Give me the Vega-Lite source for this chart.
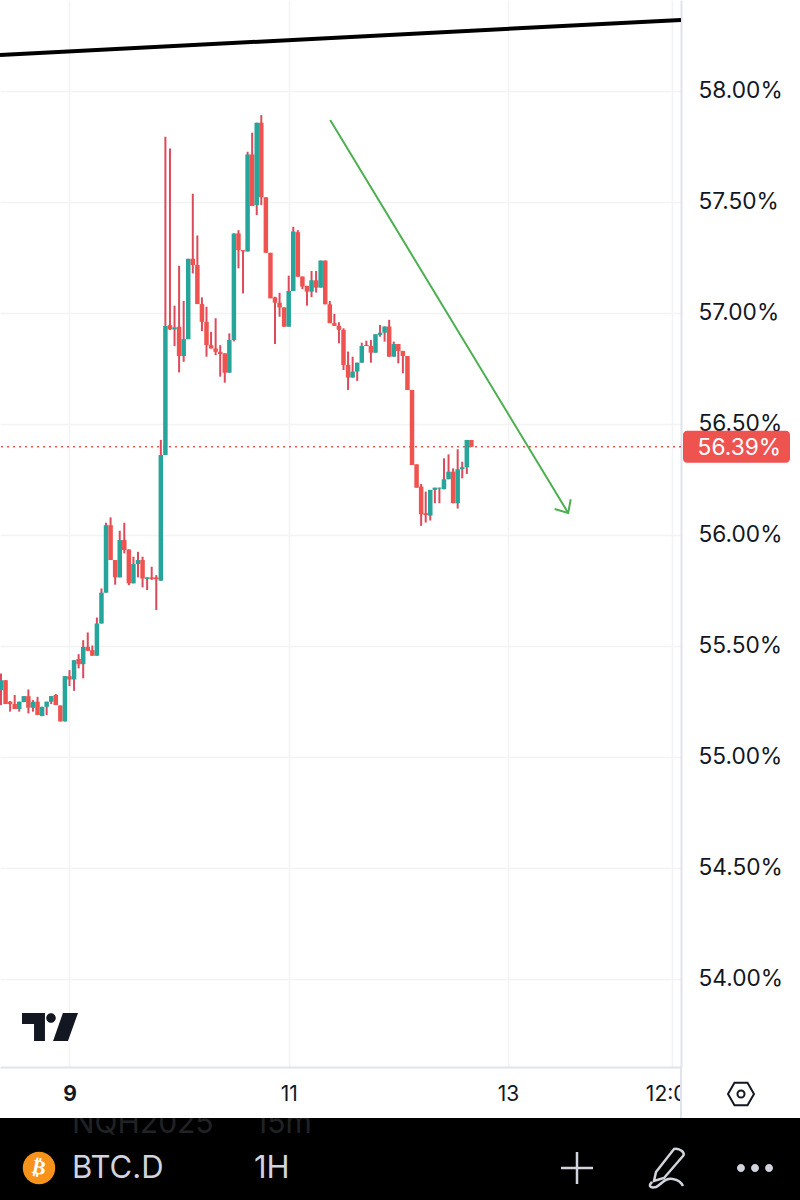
{
  "$schema": "https://vega.github.io/schema/vega-lite/v6.json",
  "width": 681,
  "height": 1067,
  "padding": {"left": -1, "top": 0, "right": 0, "bottom": 0},
  "background": "#ffffff",
  "config": {"view": {"stroke": null}, "font": "Inter"},
  "datasets": {
    "candles": [
      {"t":"2025-01-08T09:00Z","o":55.299,"h":55.374,"l":55.232,"c":55.344},
      {"t":"2025-01-08T10:00Z","o":55.344,"h":55.344,"l":55.236,"c":55.236},
      {"t":"2025-01-08T11:00Z","o":55.247,"h":55.250,"l":55.202,"c":55.236},
      {"t":"2025-01-08T12:00Z","o":55.236,"h":55.277,"l":55.214,"c":55.214},
      {"t":"2025-01-08T13:00Z","o":55.214,"h":55.247,"l":55.202,"c":55.247},
      {"t":"2025-01-08T14:00Z","o":55.245,"h":55.272,"l":55.245,"c":55.272},
      {"t":"2025-01-08T15:00Z","o":55.272,"h":55.302,"l":55.194,"c":55.220},
      {"t":"2025-01-08T16:00Z","o":55.220,"h":55.254,"l":55.202,"c":55.247},
      {"t":"2025-01-08T17:00Z","o":55.247,"h":55.269,"l":55.187,"c":55.187},
      {"t":"2025-01-08T18:00Z","o":55.182,"h":55.224,"l":55.182,"c":55.224},
      {"t":"2025-01-08T19:00Z","o":55.224,"h":55.247,"l":55.187,"c":55.247},
      {"t":"2025-01-08T20:00Z","o":55.247,"h":55.272,"l":55.236,"c":55.272},
      {"t":"2025-01-08T21:00Z","o":55.277,"h":55.282,"l":55.232,"c":55.232},
      {"t":"2025-01-08T22:00Z","o":55.230,"h":55.230,"l":55.158,"c":55.158},
      {"t":"2025-01-08T23:00Z","o":55.158,"h":55.362,"l":55.158,"c":55.362},
      {"t":"2025-01-09T00:00Z","o":55.362,"h":55.389,"l":55.317,"c":55.347},
      {"t":"2025-01-09T01:00Z","o":55.347,"h":55.434,"l":55.296,"c":55.434},
      {"t":"2025-01-09T02:00Z","o":55.439,"h":55.461,"l":55.397,"c":55.416},
      {"t":"2025-01-09T03:00Z","o":55.416,"h":55.524,"l":55.352,"c":55.494},
      {"t":"2025-01-09T04:00Z","o":55.494,"h":55.559,"l":55.476,"c":55.476},
      {"t":"2025-01-09T05:00Z","o":55.479,"h":55.500,"l":55.454,"c":55.454},
      {"t":"2025-01-09T06:00Z","o":55.454,"h":55.626,"l":55.454,"c":55.599},
      {"t":"2025-01-09T07:00Z","o":55.599,"h":55.757,"l":55.599,"c":55.738},
      {"t":"2025-01-09T08:00Z","o":55.738,"h":56.053,"l":55.738,"c":56.042},
      {"t":"2025-01-09T09:00Z","o":56.042,"h":56.077,"l":55.885,"c":55.885},
      {"t":"2025-01-09T10:00Z","o":55.885,"h":55.885,"l":55.774,"c":55.807},
      {"t":"2025-01-09T11:00Z","o":55.807,"h":56.017,"l":55.807,"c":55.975},
      {"t":"2025-01-09T12:00Z","o":55.975,"h":56.053,"l":55.915,"c":55.930},
      {"t":"2025-01-09T13:00Z","o":55.933,"h":55.933,"l":55.772,"c":55.780},
      {"t":"2025-01-09T14:00Z","o":55.780,"h":55.900,"l":55.780,"c":55.867},
      {"t":"2025-01-09T15:00Z","o":55.867,"h":55.922,"l":55.807,"c":55.885},
      {"t":"2025-01-09T16:00Z","o":55.885,"h":55.900,"l":55.762,"c":55.802},
      {"t":"2025-01-09T17:00Z","o":55.800,"h":55.807,"l":55.750,"c":55.807},
      {"t":"2025-01-09T18:00Z","o":55.807,"h":55.855,"l":55.795,"c":55.800},
      {"t":"2025-01-09T19:00Z","o":55.807,"h":55.817,"l":55.660,"c":55.798},
      {"t":"2025-01-09T20:00Z","o":55.792,"h":56.426,"l":55.792,"c":56.358},
      {"t":"2025-01-09T21:00Z","o":56.358,"h":57.792,"l":56.358,"c":56.939},
      {"t":"2025-01-09T22:00Z","o":56.943,"h":57.739,"l":56.921,"c":56.924},
      {"t":"2025-01-09T23:00Z","o":56.924,"h":57.031,"l":56.849,"c":56.933},
      {"t":"2025-01-10T00:00Z","o":56.936,"h":57.211,"l":56.730,"c":56.804},
      {"t":"2025-01-10T01:00Z","o":56.804,"h":57.052,"l":56.778,"c":56.880},
      {"t":"2025-01-10T02:00Z","o":56.880,"h":57.242,"l":56.880,"c":57.242},
      {"t":"2025-01-10T03:00Z","o":57.242,"h":57.535,"l":57.176,"c":57.214},
      {"t":"2025-01-10T04:00Z","o":57.214,"h":57.347,"l":57.038,"c":57.038},
      {"t":"2025-01-10T05:00Z","o":57.038,"h":57.068,"l":56.916,"c":56.958},
      {"t":"2025-01-10T06:00Z","o":56.958,"h":57.026,"l":56.801,"c":56.853},
      {"t":"2025-01-10T07:00Z","o":56.853,"h":56.913,"l":56.838,"c":56.838},
      {"t":"2025-01-10T08:00Z","o":56.838,"h":56.974,"l":56.808,"c":56.823},
      {"t":"2025-01-10T09:00Z","o":56.823,"h":56.853,"l":56.711,"c":56.813},
      {"t":"2025-01-10T10:00Z","o":56.816,"h":56.816,"l":56.684,"c":56.729},
      {"t":"2025-01-10T11:00Z","o":56.729,"h":56.906,"l":56.729,"c":56.876},
      {"t":"2025-01-10T12:00Z","o":56.876,"h":57.356,"l":56.870,"c":57.356},
      {"t":"2025-01-10T13:00Z","o":57.356,"h":57.371,"l":57.199,"c":57.281},
      {"t":"2025-01-10T14:00Z","o":57.281,"h":57.281,"l":57.086,"c":57.275},
      {"t":"2025-01-10T15:00Z","o":57.275,"h":57.724,"l":57.275,"c":57.712},
      {"t":"2025-01-10T16:00Z","o":57.712,"h":57.810,"l":57.480,"c":57.480},
      {"t":"2025-01-10T17:00Z","o":57.484,"h":57.855,"l":57.439,"c":57.855},
      {"t":"2025-01-10T18:00Z","o":57.855,"h":57.889,"l":57.484,"c":57.519},
      {"t":"2025-01-10T19:00Z","o":57.519,"h":57.519,"l":57.269,"c":57.269},
      {"t":"2025-01-10T20:00Z","o":57.269,"h":57.269,"l":57.064,"c":57.064},
      {"t":"2025-01-10T21:00Z","o":57.068,"h":57.071,"l":56.858,"c":57.044},
      {"t":"2025-01-10T22:00Z","o":57.044,"h":57.089,"l":56.981,"c":57.023},
      {"t":"2025-01-10T23:00Z","o":57.023,"h":57.023,"l":56.936,"c":56.936},
      {"t":"2025-01-11T00:00Z","o":56.936,"h":57.166,"l":56.936,"c":57.097},
      {"t":"2025-01-11T01:00Z","o":57.097,"h":57.386,"l":57.097,"c":57.365},
      {"t":"2025-01-11T02:00Z","o":57.362,"h":57.371,"l":57.161,"c":57.161},
      {"t":"2025-01-11T03:00Z","o":57.162,"h":57.162,"l":57.105,"c":57.117},
      {"t":"2025-01-11T04:00Z","o":57.120,"h":57.120,"l":57.031,"c":57.094},
      {"t":"2025-01-11T05:00Z","o":57.094,"h":57.187,"l":57.069,"c":57.145},
      {"t":"2025-01-11T06:00Z","o":57.145,"h":57.187,"l":57.090,"c":57.112},
      {"t":"2025-01-11T07:00Z","o":57.112,"h":57.234,"l":57.112,"c":57.234},
      {"t":"2025-01-11T08:00Z","o":57.234,"h":57.234,"l":57.037,"c":57.037},
      {"t":"2025-01-11T09:00Z","o":57.037,"h":57.052,"l":56.952,"c":56.952},
      {"t":"2025-01-11T10:00Z","o":56.952,"h":56.994,"l":56.940,"c":56.940},
      {"t":"2025-01-11T11:00Z","o":56.940,"h":56.956,"l":56.861,"c":56.922},
      {"t":"2025-01-11T12:00Z","o":56.922,"h":56.929,"l":56.741,"c":56.764},
      {"t":"2025-01-11T13:00Z","o":56.764,"h":56.824,"l":56.651,"c":56.707},
      {"t":"2025-01-11T14:00Z","o":56.707,"h":56.801,"l":56.707,"c":56.734},
      {"t":"2025-01-11T15:00Z","o":56.734,"h":56.774,"l":56.692,"c":56.774},
      {"t":"2025-01-11T16:00Z","o":56.774,"h":56.864,"l":56.774,"c":56.849},
      {"t":"2025-01-11T17:00Z","o":56.849,"h":56.873,"l":56.849,"c":56.854},
      {"t":"2025-01-11T18:00Z","o":56.849,"h":56.876,"l":56.774,"c":56.819},
      {"t":"2025-01-11T19:00Z","o":56.819,"h":56.902,"l":56.819,"c":56.902},
      {"t":"2025-01-11T20:00Z","o":56.899,"h":56.944,"l":56.891,"c":56.909},
      {"t":"2025-01-11T21:00Z","o":56.909,"h":56.937,"l":56.869,"c":56.937},
      {"t":"2025-01-11T22:00Z","o":56.937,"h":56.967,"l":56.801,"c":56.801},
      {"t":"2025-01-11T23:00Z","o":56.801,"h":56.869,"l":56.801,"c":56.858},
      {"t":"2025-01-12T00:00Z","o":56.858,"h":56.858,"l":56.771,"c":56.827},
      {"t":"2025-01-12T01:00Z","o":56.827,"h":56.827,"l":56.726,"c":56.804},
      {"t":"2025-01-12T02:00Z","o":56.804,"h":56.804,"l":56.651,"c":56.651},
      {"t":"2025-01-12T03:00Z","o":56.651,"h":56.651,"l":56.313,"c":56.313},
      {"t":"2025-01-12T04:00Z","o":56.316,"h":56.316,"l":56.211,"c":56.211},
      {"t":"2025-01-12T05:00Z","o":56.216,"h":56.228,"l":56.039,"c":56.091},
      {"t":"2025-01-12T06:00Z","o":56.096,"h":56.193,"l":56.054,"c":56.088},
      {"t":"2025-01-12T07:00Z","o":56.085,"h":56.201,"l":56.063,"c":56.201},
      {"t":"2025-01-12T08:00Z","o":56.201,"h":56.211,"l":56.141,"c":56.211},
      {"t":"2025-01-12T09:00Z","o":56.207,"h":56.211,"l":56.141,"c":56.211},
      {"t":"2025-01-12T10:00Z","o":56.204,"h":56.343,"l":56.204,"c":56.249},
      {"t":"2025-01-12T11:00Z","o":56.249,"h":56.361,"l":56.249,"c":56.283},
      {"t":"2025-01-12T12:00Z","o":56.283,"h":56.298,"l":56.141,"c":56.141},
      {"t":"2025-01-12T13:00Z","o":56.141,"h":56.384,"l":56.117,"c":56.294},
      {"t":"2025-01-12T14:00Z","o":56.294,"h":56.328,"l":56.253,"c":56.303},
      {"t":"2025-01-12T15:00Z","o":56.303,"h":56.426,"l":56.273,"c":56.426},
      {"t":"2025-01-12T16:00Z","o":56.426,"h":56.426,"l":56.395,"c":56.395}
    ],
    "trend": [
      {"t":"2025-01-08T08:47Z","p":58.16},
      {"t":"2025-01-14T13:54Z","p":58.318}
    ],
    "arrow": [
      {"seg":"shaft","i":0,"t":"2025-01-11T09:05Z","p":57.867},
      {"seg":"shaft","i":1,"t":"2025-01-13T13:12Z","p":56.097},
      {"seg":"head","i":0,"t":"2025-01-13T10:14Z","p":56.115},
      {"seg":"head","i":1,"t":"2025-01-13T13:12Z","p":56.097},
      {"seg":"head","i":2,"t":"2025-01-13T13:45Z","p":56.159}
    ],
    "last": [{"p":56.395,"label":"56.39%"}]
  },
  "layer": [
    {
      "data": {"name": "trend"},
      "mark": {"type": "line", "color": "#000000", "strokeWidth": 4, "clip": true},
      "encoding": {
        "x": {
          "field": "t",
          "type": "temporal",
          "title": null,
          "scale": {"type": "utc", "domain": ["2025-01-08T08:47Z", "2025-01-14T13:54Z"], "nice": false, "padding": 0},
          "axis": {
            "values": [
              {"year": 2025, "month": 1, "date": 9, "utc": true},
              {"year": 2025, "month": 1, "date": 11, "utc": true},
              {"year": 2025, "month": 1, "date": 13, "utc": true},
              {"year": 2025, "month": 1, "date": 14, "hours": 12, "utc": true}
            ],
            "labelExpr": "utcdate(datum.value) == 14 ? '12:00' : utcdate(datum.value)",
            "labelFontSize": 21,
            "labelColor": "#131722",
            "labelFontWeight": {"condition": {"test": "utcdate(datum.value) == 9", "value": 700}, "value": 400},
            "labelPadding": 16,
            "labelOverlap": false,
            "labelBound": false,
            "labelFlush": false,
            "ticks": false,
            "domainColor": "#e0e3eb",
            "domainWidth": 2,
            "grid": true,
            "gridColor": "#f2f3f5",
            "gridWidth": 1.5,
            "minExtent": 51,
            "maxExtent": 51
          }
        },
        "y": {
          "field": "p",
          "type": "quantitative",
          "title": null,
          "scale": {"domain": [53.6014, 58.4077], "nice": false, "zero": false},
          "axis": {
            "orient": "right",
            "values": [54, 54.5, 55, 55.5, 56, 56.5, 57, 57.5, 58],
            "labelExpr": "format(datum.value, '.2f') + '%'",
            "labelFontSize": 22.7,
            "labelColor": "#131722",
            "labelPadding": 17,
            "labelOverlap": false,
            "labelBound": false,
            "ticks": false,
            "domainColor": "#e0e3eb",
            "domainWidth": 2,
            "grid": true,
            "gridColor": "#f2f3f5",
            "gridWidth": 1.5
          }
        }
      }
    },
    {
      "data": {"name": "last"},
      "mark": {"type": "rule", "color": "#ef5350", "strokeWidth": 1.5, "strokeDash": [2, 4]},
      "encoding": {
        "y": {"field": "p", "type": "quantitative", "title": null, "scale": {"domain": [53.6014, 58.4077], "nice": false, "zero": false}, "axis": {"orient": "right"}}
      }
    },
    {
      "data": {"name": "candles"},
      "mark": {"type": "rule", "color": "#dc4a5b", "strokeWidth": 2, "clip": true},
      "encoding": {
        "x": {"field": "t", "type": "temporal", "title": null, "scale": {"type": "utc", "domain": ["2025-01-08T08:47Z", "2025-01-14T13:54Z"], "nice": false, "padding": 0}},
        "y": {"field": "l", "type": "quantitative", "title": null, "scale": {"domain": [53.6014, 58.4077], "nice": false, "zero": false}, "axis": {"orient": "right"}},
        "y2": {"field": "h"}
      }
    },
    {
      "data": {"name": "candles"},
      "mark": {"type": "bar", "size": 4.5, "orient": "vertical", "clip": true},
      "encoding": {
        "x": {"field": "t", "type": "temporal", "title": null, "scale": {"type": "utc", "domain": ["2025-01-08T08:47Z", "2025-01-14T13:54Z"], "nice": false, "padding": 0}},
        "y": {"field": "o", "type": "quantitative", "title": null, "scale": {"domain": [53.6014, 58.4077], "nice": false, "zero": false}, "axis": {"orient": "right"}},
        "y2": {"field": "c"},
        "color": {"condition": {"test": "datum.c >= datum.o", "value": "#26a69a"}, "value": "#ef5350"}
      }
    },
    {
      "data": {"name": "arrow"},
      "mark": {"type": "line", "color": "#4caf50", "strokeWidth": 2},
      "encoding": {
        "x": {"field": "t", "type": "temporal", "title": null, "scale": {"type": "utc", "domain": ["2025-01-08T08:47Z", "2025-01-14T13:54Z"], "nice": false, "padding": 0}},
        "y": {"field": "p", "type": "quantitative", "title": null, "scale": {"domain": [53.6014, 58.4077], "nice": false, "zero": false}, "axis": {"orient": "right"}},
        "detail": {"field": "seg"},
        "order": {"field": "i"}
      }
    },
    {
      "data": {"name": "last"},
      "mark": {"type": "tick", "orient": "horizontal", "size": 107, "thickness": 32, "color": "#ef5350", "opacity": 1, "cornerRadius": 4},
      "encoding": {
        "x": {"value": 736.5},
        "y": {"field": "p", "type": "quantitative", "title": null, "scale": {"domain": [53.6014, 58.4077], "nice": false, "zero": false}, "axis": {"orient": "right"}}
      }
    },
    {
      "data": {"name": "last"},
      "mark": {"type": "text", "color": "#ffffff", "fontSize": 22.7, "align": "right", "baseline": "middle", "dy": 1},
      "encoding": {
        "x": {"value": 781},
        "y": {"field": "p", "type": "quantitative", "title": null, "scale": {"domain": [53.6014, 58.4077], "nice": false, "zero": false}, "axis": {"orient": "right"}},
        "text": {"field": "label"}
      }
    },
    {
      "data": {"values": [{}]},
      "mark": {"type": "point", "x": 50, "y": 1027, "size": 3136, "filled": true, "opacity": 1, "color": "#131722",
        "shape": "M-1 -.5H-.18V.5H-.57V-.11H-1ZM-.134 -.32a.17 .17 0 1 0 .34 0a.17 .17 0 1 0 -.34 0ZM.46 -.5H1L.64 .5H.11Z"}
    },
    {
      "data": {"values": [{}]},
      "mark": {"type": "rect", "x": 682, "x2": 802, "y": 1068, "y2": 1118, "color": "#ffffff"}
    },
    {
      "data": {"values": [{}]},
      "mark": {"type": "rect", "x": 680, "x2": 682, "y": 1067, "y2": 1118, "color": "#e0e3eb"}
    },
    {
      "data": {"values": [{}]},
      "mark": {"type": "point", "x": 741, "y": 1094, "size": 676, "filled": false, "opacity": 1, "color": "#131722", "strokeWidth": 2,
        "shape": "M-1 0L-.5 -.87H.5L1 0L.5 .87H-.5Z"}
    },
    {
      "data": {"values": [{}]},
      "mark": {"type": "point", "x": 741, "y": 1094, "size": 50, "filled": false, "opacity": 1, "color": "#131722", "strokeWidth": 2, "shape": "circle"}
    },
    {
      "data": {"values": [{}]},
      "mark": {"type": "rect", "x": 0, "x2": 801, "y": 1118, "y2": 1200, "color": "#000000"}
    },
    {
      "data": {"values": [{}]},
      "mark": {"type": "text", "x": 72, "y": 1133, "text": "NQH2025", "align": "left", "baseline": "alphabetic", "fontSize": 30, "color": "#202226"}
    },
    {
      "data": {"values": [{}]},
      "mark": {"type": "text", "x": 255, "y": 1133, "text": "15m", "align": "left", "baseline": "alphabetic", "fontSize": 30, "color": "#202226"}
    },
    {
      "data": {"values": [{}]},
      "mark": {"type": "rect", "x": 60, "x2": 330, "y": 1106, "y2": 1118, "color": "#ffffff"}
    },
    {
      "data": {"values": [{}]},
      "mark": {"type": "point", "x": 39, "y": 1168, "size": 1050, "filled": true, "opacity": 1, "color": "#f7931a", "shape": "circle"}
    },
    {
      "data": {"values": [{}]},
      "mark": {"type": "text", "x": 39, "y": 1168, "text": "₿", "align": "center", "baseline": "middle", "font": "DejaVu Sans", "fontWeight": 700, "fontSize": 20, "color": "#ffffff", "angle": 12}
    },
    {
      "data": {"values": [{}]},
      "mark": {"type": "text", "x": 72, "y": 1169, "text": "BTC.D", "align": "left", "baseline": "middle", "fontSize": 31, "color": "#d1d4dc"}
    },
    {
      "data": {"values": [{}]},
      "mark": {"type": "text", "x": 254, "y": 1169, "text": "1H", "align": "left", "baseline": "middle", "fontSize": 31, "color": "#d1d4dc"}
    },
    {
      "data": {"values": [{}]},
      "mark": {"type": "point", "x": 577, "y": 1168, "size": 1024, "filled": false, "opacity": 1, "color": "#d1d4dc", "strokeWidth": 2.5, "shape": "M-1 0H1M0 -1V1"}
    },
    {
      "data": {"values": [{}]},
      "mark": {"type": "point", "x": 667, "y": 1168, "size": 1600, "filled": false, "opacity": 1, "color": "#d1d4dc", "strokeWidth": 2.5,
        "shape": "M-.55 .2L.35 -.95Q.55 -1 .75 -.85Q.9 -.7 .8 -.6L-.15 .5L-.65 .65ZM-.75 .7C-1 .95 -.75 1 -.55 .95C-.3 .85 -.1 .45 .3 .55C.6 .6 .75 .8 .8 .9"}
    },
    {
      "data": {"values": [{}]},
      "mark": {"type": "point", "x": 755, "y": 1168, "size": 1296, "filled": true, "opacity": 1, "color": "#d1d4dc",
        "shape": "M-1 0a.22 .22 0 1 0 .44 0a.22 .22 0 1 0 -.44 0ZM-.22 0a.22 .22 0 1 0 .44 0a.22 .22 0 1 0 -.44 0ZM.56 0a.22 .22 0 1 0 .44 0a.22 .22 0 1 0 -.44 0Z"}
    }
  ]
}
